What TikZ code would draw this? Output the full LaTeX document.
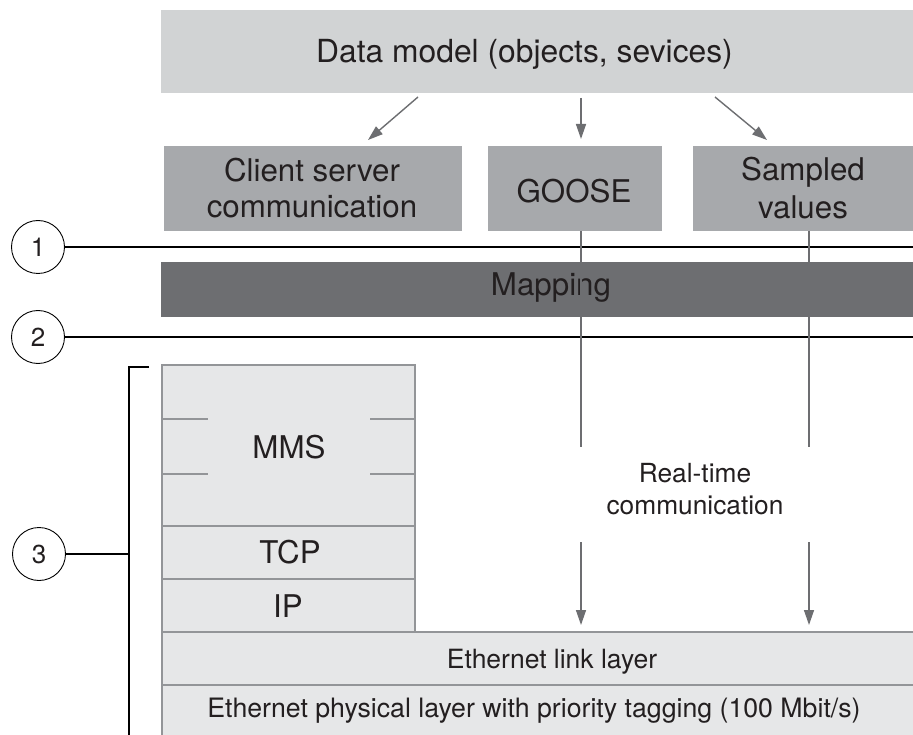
\documentclass[tikz,border=0pt]{standalone}
\usepackage{fontspec}
\setmainfont{TeX Gyre Heros}
\usetikzlibrary{arrows.meta}
\definecolor{cTop}{HTML}{D1D3D4}
\definecolor{cMid}{HTML}{A7A9AC}
\definecolor{cDark}{HTML}{6D6E71}
\definecolor{cLow}{HTML}{E6E7E8}
\definecolor{cEdge}{HTML}{939598}
\definecolor{cTxt}{HTML}{231F20}
\newcommand\myfs[2]{\fontsize{#1}{#2}\selectfont}
\begin{document}
\begin{tikzpicture}[x=1pt,y=-1pt,
  blockbox/.style={draw=none,inner sep=0pt,outer sep=0pt,anchor=north west},
  lowbox/.style={blockbox,draw=cEdge,fill=cLow,line width=1.5pt},
  txt/.style={text=cTxt,inner sep=0pt,outer sep=0pt,align=center},
  numcirc/.style={circle,draw=black,line width=0.9pt,minimum size=53pt,inner sep=0pt,text=cTxt,font=\myfs{26}{30}},
  blackline/.style={draw=black,line width=1.4pt},
  grayline/.style={draw=cDark,line width=1.4pt},
  grayarrow/.style={grayline,-{Triangle[length=15pt,width=10pt]}},
  edgeline/.style={draw=cEdge,line width=1.5pt}]
\useasboundingbox (0,0) rectangle (913,735);
\clip (0,0) rectangle (913,735);
\fill[white] (0,0) rectangle (913,735);

% top box
\node[blockbox,fill=cTop,minimum width=770pt,minimum height=83pt] (dm) at (161,10) {};
\node[txt,anchor=base,font=\myfs{31.8}{36}] (tdm) at (524.5,63) {Data model (objects, sevices)};

% second row
\node[blockbox,fill=cMid,minimum width=298pt,minimum height=85pt] (cs) at (164,146) {};
\node[blockbox,fill=cMid,minimum width=174pt,minimum height=85pt] (goose) at (488,146) {};
\node[blockbox,fill=cMid,minimum width=240pt,minimum height=85pt] (sv) at (693,146) {};
\node[txt,font=\myfs{31.3}{36}] (tcs) at (312,188.5) {Client server\\communication};
\node[txt,anchor=base,font=\myfs{31.3}{36}] (tgoose) at (574,203) {GOOSE};
\node[txt,font=\myfs{31.3}{38}] (tsv) at (803,188) {Sampled\\values};

% arrows from data model
\coordinate (a1s) at (418,97);  \coordinate (a1e) at (368,140);
\coordinate (a2s) at (581,98);  \coordinate (a2e) at (581,139);
\coordinate (a3s) at (715,97);  \coordinate (a3e) at (767,140);
\draw[grayarrow] (a1s) -- (a1e);
\draw[grayarrow] (a2s) -- (a2e);
\draw[grayarrow] (a3s) -- (a3e);

% circles and horizontal lines
\node[numcirc] (c1) at (38,247) {1};
\node[numcirc] (c2) at (38,337) {2};
\node[numcirc] (c3) at (39,554) {3};
\coordinate (l1e) at (920,247);
\coordinate (l2e) at (920,337);
\draw[blackline] (c1.east) -- (l1e);
\draw[blackline] (c2.east) -- (l2e);

% mapping
\node[blockbox,fill=cDark,minimum width=770pt,minimum height=55pt] (map) at (161,262) {};
\node[txt,anchor=base,font=\myfs{31.3}{36}] (tmap) at (551,296) {Mapping};

% lower stack
\node[lowbox,minimum width=770pt,minimum height=53pt] (link) at (162,632) {};
\node[lowbox,minimum width=770pt,minimum height=70pt] (phys) at (162,685) {};
\node[lowbox,minimum width=253pt,minimum height=161pt] (mms) at (162,365) {};
\node[lowbox,minimum width=253pt,minimum height=53pt] (tcp) at (162,526) {};
\node[lowbox,minimum width=253pt,minimum height=53pt] (ip) at (162,579) {};
\draw[edgeline] (162,419) -- (208,419);
\draw[edgeline] (162,474) -- (208,474);
\draw[edgeline] (370,419) -- (415,419);
\draw[edgeline] (370,474) -- (415,474);
\node[txt,anchor=base,font=\myfs{31.3}{36}] (tmms) at (289,458) {MMS};
\node[txt,anchor=base,font=\myfs{31.3}{36}] (ttcp) at (290,563) {TCP};
\node[txt,anchor=base,font=\myfs{31.3}{36}] (tip) at (288,617) {IP};
\node[txt,anchor=base,font=\myfs{26.5}{32}] (tlink) at (552,668) {Ethernet link layer};
\node[txt,anchor=base,font=\myfs{26.7}{32}] (tphys) at (534,717) {Ethernet physical layer with priority tagging (100 Mbit/s)};

% real-time
\node[txt,font=\myfs{26.3}{32}] (trt) at (695,489.5) {Real-time\\communication};
\coordinate (g1) at (581,447); \coordinate (g2) at (581,542); \coordinate (g3) at (581,625);
\coordinate (s1) at (809,447); \coordinate (s2) at (809,542); \coordinate (s3) at (809,625);
\draw[grayline] (goose.south -| g1) -- (g1);
\draw[grayline] (sv.south -| s1) -- (s1);
\draw[grayarrow] (g2) -- (g3);
\draw[grayarrow] (s2) -- (s3);

% bracket
\coordinate (b1) at (149,367); \coordinate (b2) at (129,367); \coordinate (b3) at (129,740);
\coordinate (b4) at (129,554);
\draw[blackline] (b1) -- (b2) -- (b3);
\draw[blackline] (c3.east) -- (b4);
\end{tikzpicture}
\end{document}
